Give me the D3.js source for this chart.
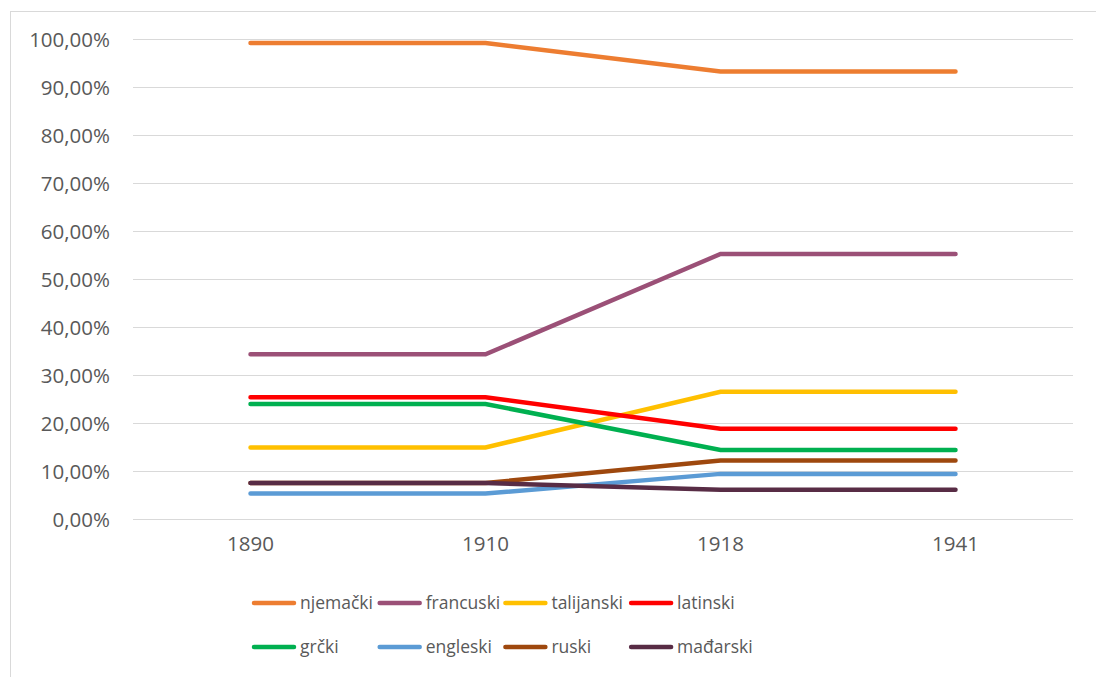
<!DOCTYPE html>
<html lang="hr">
<head>
<meta charset="utf-8">
<title>Strani jezici</title>
<script src="https://d3js.org/d3.v7.min.js"></script>
<style>
body { margin: 0; background: #fff; }
svg text { font-family: "Open Sans", "Noto Sans", sans-serif; fill: #595959; }
</style>
</head>
<body>
<div id="chart"></div>
<script>
// data
var years = ["1890", "1910", "1918", "1941"];
var languages = ["njemački", "francuski", "talijanski", "latinski", "grčki", "engleski", "ruski", "mađarski"];
var colors = ["#ED7D31", "#9B5077", "#FFC000", "#FF0000", "#00B050", "#5B9BD5", "#9E480E", "#582C45"];

var njemacki   = [0.9917, 0.9917, 0.9323, 0.9323];
var francuski  = [0.3430, 0.3430, 0.5520, 0.5520];
var talijanski = [0.1490, 0.1490, 0.2650, 0.2650];
var latinski   = [0.2535, 0.2535, 0.1880, 0.1880];
var grcki      = [0.2396, 0.2396, 0.1440, 0.1440];
var engleski   = [0.0530, 0.0530, 0.0940, 0.0940];
var ruski      = [0.0750, 0.0750, 0.1220, 0.1220];
var madjarski  = [0.0750, 0.0750, 0.0610, 0.0610];
var series = [njemacki, francuski, talijanski, latinski, grcki, engleski, ruski, madjarski];

var yTicks = [0, 0.1, 0.2, 0.3, 0.4, 0.5, 0.6, 0.7, 0.8, 0.9, 1.0];

var W = 1096, H = 677;
var plot = {left: 133, right: 1073, top: 39, bottom: 519};

var svg = d3.select("#chart").append("svg")
    .attr("width", W)
    .attr("height", H);

// chart border
svg.append("rect")
    .attr("x", 10.5).attr("y", 11.5)
    .attr("width", W + 20).attr("height", H + 20)
    .attr("fill", "none")
    .attr("stroke", "#d9d9d9")
    .attr("stroke-width", 1);

var x = d3.scaleBand()
    .domain(years)
    .range([plot.left, plot.right]);

var y = d3.scaleLinear()
    .domain([0, 1])
    .range([plot.bottom, plot.top]);

var fmt = function(d) { return d3.format(".2f")(d * 100).replace(".", ",") + "%"; };

// gridlines + y labels
var yAxis = svg.append("g")
    .attr("transform", "translate(" + plot.left + ",0)")
    .call(d3.axisLeft(y).tickValues(yTicks).tickFormat(fmt)
        .tickSize(-(plot.right - plot.left)).tickPadding(23));
yAxis.select(".domain").remove();
yAxis.selectAll("line").attr("stroke", "#d9d9d9").attr("stroke-width", 1);
yAxis.selectAll("text").style("font-size", "20.5px").attr("dy", "0.36em");

// x labels
var xAxis = svg.append("g")
    .attr("transform", "translate(0," + plot.bottom + ")")
    .call(d3.axisBottom(x).tickSize(0).tickPadding(17));
xAxis.select(".domain").remove();
xAxis.selectAll("text").style("font-size", "20.5px");

// lines
var line = d3.line()
    .x(function(d, i) { return x(years[i]) + x.bandwidth() / 2; })
    .y(function(d) { return y(d); });

svg.append("g").selectAll("path")
    .data(series)
    .enter()
    .append("path")
    .attr("d", line)
    .attr("fill", "none")
    .attr("stroke", function(d, i) { return colors[i]; })
    .attr("stroke-width", 4.5)
    .attr("stroke-linecap", "round")
    .attr("stroke-linejoin", "miter");

// legend
var legend = svg.append("g");
var item = legend.selectAll("g")
    .data(languages)
    .enter()
    .append("g")
    .attr("transform", function(d, i) {
      return "translate(" + (254 + (i % 4) * 125.7) + "," + (603 + Math.floor(i / 4) * 44) + ")";
    });
item.append("line")
    .attr("x1", 0).attr("x2", 40)
    .attr("stroke", function(d, i) { return colors[i]; })
    .attr("stroke-width", 4.5)
    .attr("stroke-linecap", "round");
item.append("text")
    .attr("x", 46)
    .attr("dy", "0.36em")
    .style("font-size", "17.5px")
    .text(function(d) { return d; });
</script>
</body>
</html>
